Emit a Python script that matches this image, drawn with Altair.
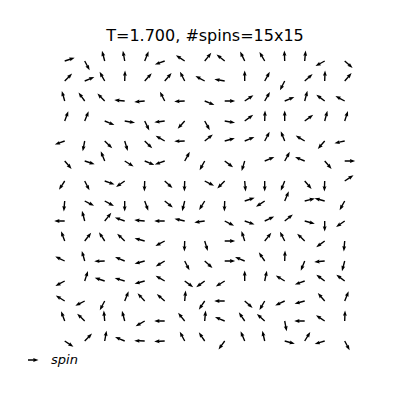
import altair as alt
import pandas as pd

title_text = "T=1.700, #spins=15x15"
legend_label = "spin"
n_side = 15

# spin angles in degrees (counter-clockwise from +x), one list per lattice row, top row first
row_00 = [18, -62, 105, 100, 68, 200, 147, 51, 141, 116, 120, 92, 85, 209, -41]
row_01 = [45, 23, 119, 88, 48, 49, 117, 152, 170, 90, 61, 243, 41, 88, 49]
row_02 = [106, 126, 134, 175, 185, 117, 183, -22, 0, 34, 60, 23, 75, 143, 152]
row_03 = [70, 68, -22, -10, -64, 187, 228, -61, -10, 36, 88, 90, 36, 75, 72]
row_04 = [200, 259, -44, -73, -44, 150, 182, 39, 15, 22, 62, 112, 149, 229, 192]
row_05 = [-49, -18, 112, -32, -23, 200, 61, 241, -37, 253, 23, 61, 157, -49, 0]
row_06 = [237, -63, -20, 215, 268, -42, 268, -27, 225, -85, 270, 248, -49, 268, 33]
row_07 = [265, -27, -28, 270, -70, -39, 256, 238, 268, 18, 214, 67, 14, 165, 241]
row_08 = [180, 105, 51, 160, 175, 180, 167, 188, -27, -20, 25, 39, -15, 270, 215]
row_09 = [110, 52, 123, 136, 165, 208, 268, -73, 0, 108, 51, 117, 136, 216, 265]
row_10 = [154, 106, 182, 157, 195, 211, -63, -42, 0, 157, 124, 88, 248, 185, 255]
row_11 = [208, 72, 162, 163, 195, 150, -36, 216, 212, 90, 78, 148, 200, 143, 143]
row_12 = [148, 207, 242, 68, 133, 139, 85, 236, 180, -41, 240, 205, 195, 131, 68]
row_13 = [110, 136, 95, 105, 210, 180, 129, 85, 158, 124, 138, -79, 180, 146, 88]
row_14 = [-34, 46, 80, 157, 178, 183, 118, 124, 234, 113, 103, -15, 58, 197, -62]

rows = [row_00, row_01, row_02, row_03, row_04, row_05, row_06, row_07,
        row_08, row_09, row_10, row_11, row_12, row_13, row_14]

records = []
for r, row in enumerate(rows):
    for c, phi in enumerate(row):
        records.append({"i": c, "j": n_side - 1 - r, "phi": phi,
                        "rot": (-phi) % 360, "kind": legend_label})
df = pd.DataFrame(records)

# arrow glyph: tail at the origin, pointing along +x (quiver-style, pivot at tail)
ARROW = "M0,-0.066L0.54,-0.066L0.49,-0.185L1,0L0.49,0.185L0.54,0.066L0,0.066Z"

chart = alt.Chart(df).mark_point(
    filled=True, color="black", opacity=1, strokeWidth=0, size=441
).encode(
    x=alt.X("i:Q", scale=alt.Scale(domain=[-0.735, 14.765], nice=False, zero=False), axis=None),
    y=alt.Y("j:Q", scale=alt.Scale(domain=[-0.75, 14.65], nice=False, zero=False), axis=None),
    angle=alt.Angle("rot:Q", scale=alt.Scale(domain=[0, 360], range=[0, 360])),
    shape=alt.Shape(
        "kind:N",
        scale=alt.Scale(domain=[legend_label], range=[ARROW]),
        legend=alt.Legend(
            title=None, orient="none", legendX=-32.5, legendY=301.5, padding=0,
            labelFont="DejaVu Sans", labelFontStyle="italic", labelFontSize=13,
            labelColor="black", labelOffset=12.5,
            symbolSize=441, symbolFillColor="black", symbolStrokeWidth=0,
            symbolStrokeColor="black", symbolOpacity=1,
        ),
    ),
).properties(
    width=310,
    height=308,
    title=alt.Title(title_text, font="DejaVu Sans", fontSize=16, fontWeight="normal",
                    color="black", offset=-9, baseline="alphabetic"),
    padding={"left": 42, "top": 40, "right": 32, "bottom": 36},
    autosize=alt.AutoSizeParams(type="none"),
).configure_view(stroke=None)

chart.save("out.html", embed_options={"renderer": "svg", "actions": False})
